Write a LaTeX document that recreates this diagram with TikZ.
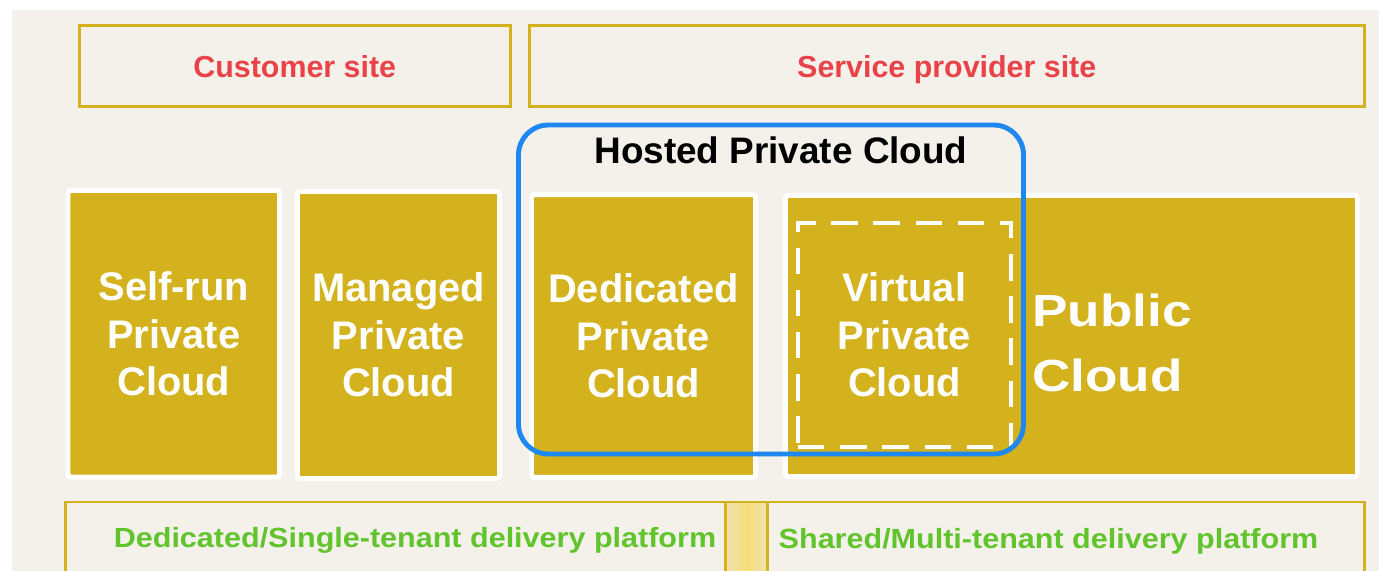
\documentclass[tikz,border=0pt]{standalone}
\usepackage{fontspec}
\setmainfont{Liberation Sans}
\newfontfamily\publicfont[FakeStretch=1.18]{Liberation Sans}
\newfontfamily\platformfont[FakeStretch=1.1]{Liberation Sans}
\usepackage{tikz}
\definecolor{gold}{RGB}{212,178,30}
\definecolor{paper}{RGB}{244,241,234}
\definecolor{sitered}{RGB}{233,66,72}
\definecolor{platgreen}{RGB}{98,196,44}
\definecolor{hostblue}{RGB}{30,136,240}
\definecolor{gapmid}{RGB}{245,222,120}
\definecolor{gapedge}{RGB}{240,226,178}

\begin{document}
\begin{tikzpicture}[x=0.02cm,y=-0.02cm,
        sitebox/.style={draw=gold,line width=1.7pt,inner sep=0pt,text height=12.6pt,text depth=0pt,text=sitered,font=\bfseries\fontsize{17.3}{20}\selectfont},
        cloudbox/.style={draw=white,fill=gold,line width=2.8pt,rounded corners=1.5pt,inner sep=0pt,text=white,align=center,font=\bfseries\fontsize{22.7}{26.9}\selectfont},
        virtbox/.style={draw=white,line width=2.5pt,dash pattern=on 15pt off 9pt,inner sep=0pt,text=white,align=center,font=\bfseries\fontsize{22.7}{26.9}\selectfont},
        platbox/.style={draw=gold,line width=1.7pt,inner sep=0pt},
        plattext/.style={text=platgreen,anchor=base,inner sep=0pt,font=\platformfont\bfseries\fontsize{15.8}{19}\selectfont}]
        \useasboundingbox (0,0) rectangle (1379,571);
        \clip (0,0) rectangle (1379,571);
        \fill[white] (0,0) rectangle (1379,571);
        \fill[paper] (12,10) rectangle (1379,571);

        \coordinate (customer) at (294.75,66);
        \coordinate (provider) at (946.75,66);
        \coordinate (selfrun) at (173.75,333.75);
        \coordinate (managed) at (398.5,335);
        \coordinate (dedicated) at (643.5,336);
        \coordinate (public) at (1071.5,336);
        \coordinate (virtual) at (904.5,335);
        \coordinate (hosted) at (771,289.5);
        \coordinate (platform) at (715,551);
        \coordinate (gap) at (746.25,551);

        % sites
        \node[sitebox,minimum width=430.5*0.02cm,minimum height=81*0.02cm] (CustomerSite) at (customer) {Customer site};
        \node[sitebox,minimum width=834.5*0.02cm,minimum height=81*0.02cm] (ProviderSite) at (provider) {Service provider site};

        % clouds
        \node[cloudbox,minimum width=211.5*0.02cm,minimum height=286.5*0.02cm] (SelfRunCloud) at (selfrun) {Self-run\\Private\\Cloud};
        \node[cloudbox,minimum width=202*0.02cm,minimum height=287*0.02cm] (ManagedCloud) at (managed) {Managed\\Private\\Cloud};
        \node[cloudbox,minimum width=224*0.02cm,minimum height=282.5*0.02cm] (DedicatedCloud) at (dedicated) {Dedicated\\Private\\Cloud};
        \node[cloudbox,minimum width=572*0.02cm,minimum height=281*0.02cm] (PublicCloud) at (public) {};
        \node[virtbox,minimum width=213*0.02cm,minimum height=224*0.02cm] (VirtualCloud) at (virtual) {Virtual\\Private\\Cloud};
        \node[anchor=west,inner sep=0pt,align=left,text=white,font=\publicfont\bfseries\fontsize{25.6}{36.8}\selectfont] (PublicText) at (1032,343) {Public\\Cloud};

        % delivery platforms
        \node[platbox,minimum width=1299*0.02cm,minimum height=98*0.02cm] (Platform) at (platform) {};
        \node[platbox,shading=axis,left color=gapedge,right color=gapedge,middle color=gapmid,minimum width=41.5*0.02cm,minimum height=98*0.02cm] (Gap) at (gap) {};
        \node[plattext] (SingleTenant) at (415,547) {Dedicated/Single-tenant delivery platform};
        \node[plattext] (MultiTenant) at (1048.5,548) {Shared/Multi-tenant delivery platform};

        % hosted private cloud
        \node[draw=hostblue,line width=2.8pt,rounded corners=17pt,minimum width=505*0.02cm,minimum height=329*0.02cm] (HostedCloud) at (hosted) {};
        \node[anchor=base,inner sep=0pt,font=\bfseries\fontsize{21}{24}\selectfont] (HostedLabel) at (781,163) {Hosted Private Cloud};
    \end{tikzpicture}
\end{document}
